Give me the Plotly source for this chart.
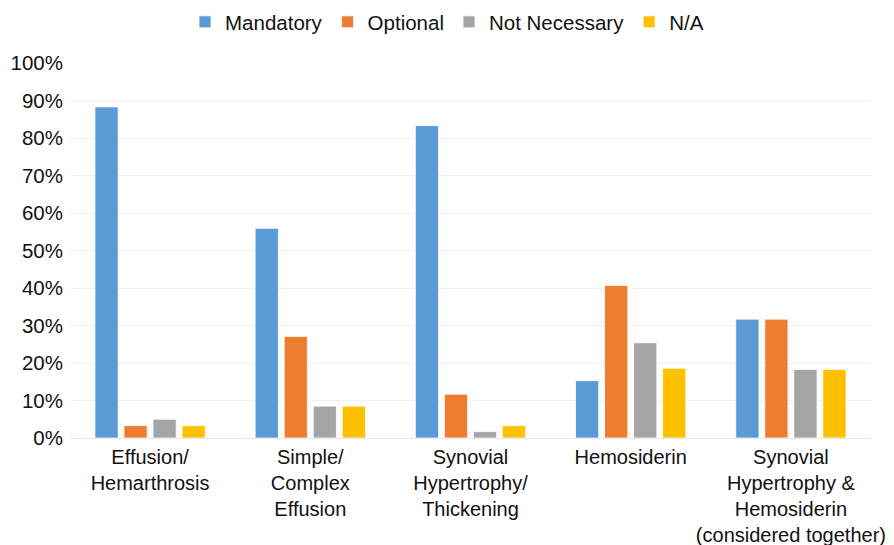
import plotly.graph_objects as go

categories = [
    "Effusion/<br>Hemarthrosis",
    "Simple/<br>Complex<br>Effusion",
    "Synovial<br>Hypertrophy/<br>Thickening",
    "Hemosiderin",
    "Synovial<br>Hypertrophy &<br>Hemosiderin<br>(considered together)",
]
mandatory = [0.883, 0.559, 0.833, 0.153, 0.317]
optional = [0.033, 0.271, 0.117, 0.407, 0.317]
not_necessary = [0.050, 0.085, 0.017, 0.254, 0.183]
n_a = [0.033, 0.085, 0.033, 0.186, 0.183]

series = [
    ("Mandatory", mandatory, "#5B9BD5"),
    ("Optional", optional, "#ED7D31"),
    ("Not Necessary", not_necessary, "#A5A5A5"),
    ("N/A", n_a, "#FFC000"),
]

font_family = "Liberation Sans, Arial, Helvetica, sans-serif"

fig = go.Figure()
for name, vals, color in series:
    fig.add_trace(go.Bar(
        x=categories, y=vals, name=name,
        marker=dict(color=color, line=dict(color="rgba(255,255,255,0.8)", width=1)),
    ))

# the page body adds an 8px offset; size the figure to fill the remaining window
W, H = 886, 537
fig.update_layout(
    width=W, height=H,
    barmode="group", bargap=0.275, bargroupgap=0.2,
    plot_bgcolor="white", paper_bgcolor="white",
    margin=dict(l=62, r=23, t=55, b=107, autoexpand=False),
    font=dict(family=font_family, size=20.5, color="#111111"),
    legend=dict(
        orientation="h", xref="container", x=(447 - 8) / W, xanchor="center",
        yref="container", y=1 - 14 / H, yanchor="middle",
        font=dict(size=20.5), itemwidth=30, traceorder="normal",
    ),
    xaxis=dict(
        showgrid=False, showline=False, ticks="", automargin=False,
        tickfont=dict(size=20), tickangle=0, ticklabelstandoff=5,
    ),
    yaxis=dict(
        range=[0, 1], dtick=0.1, tickformat=".0%", automargin=False,
        showgrid=True, gridcolor="#F0F0F0", gridwidth=1,
        zeroline=True, zerolinecolor="#E8E8E8", zerolinewidth=1,
        showline=False, ticks="", ticklabelstandoff=6,
        tickfont=dict(size=20.5),
    ),
)

fig.write_html("out.html")
